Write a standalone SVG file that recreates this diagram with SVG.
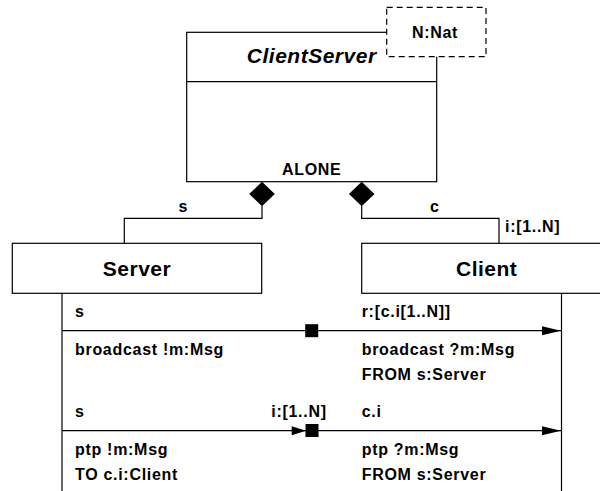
<svg xmlns="http://www.w3.org/2000/svg" width="600" height="491" viewBox="0 0 600 491">
<style>
.box{fill:#fff;stroke:#000;stroke-width:1.2}
.ln{fill:none;stroke:#000;stroke-width:1.2}
.big{font-family:"Liberation Sans",Arial,sans-serif;font-weight:bold;font-size:21px;letter-spacing:0.5px;fill:#000}
.sm{font-family:"Liberation Sans",Arial,sans-serif;font-weight:bold;font-size:16px;letter-spacing:0.7px;fill:#000}
.mid{text-anchor:middle}
.end{text-anchor:end}
</style>
<defs>
<marker id="arr" markerWidth="20" markerHeight="10" refX="19" refY="4.5" orient="auto" markerUnits="userSpaceOnUse">
<path d="M0,0 L19,4.5 L0,9 Z" fill="#000"/>
</marker>
</defs>
<g id="ClientServer">
<rect class="box" x="186.7" y="32.3" width="250" height="149.4"/>
<line class="ln" x1="186.7" y1="81.7" x2="436.7" y2="81.7"/>
<text class="big mid" x="311.7" y="63.3" font-style="italic">ClientServer</text>
<text class="sm mid" x="311.7" y="175">ALONE</text>
<g id="param">
<rect x="386.7" y="7.3" width="99.3" height="49.4" fill="#fff" stroke="#000" stroke-width="1.2" stroke-dasharray="6,4"/>
<text class="sm mid" x="435" y="38.3">N:Nat</text>
</g>
</g>
<g id="Server">
<rect class="box" x="12.3" y="243.3" width="249.4" height="50"/>
<text class="big mid" x="137" y="275.7">Server</text>
</g>
<g id="Client">
<rect class="box" x="361.7" y="243.3" width="250" height="50"/>
<text class="big mid" x="486.7" y="275.7">Client</text>
</g>
<g id="connectors">
<path class="ln" d="M262,206 V218.3 H124.3 V243.3"/>
<polygon points="262,181.7 274.8,194 262,206.3 249.2,194" fill="#000"/>
<text class="sm mid" x="183.3" y="212.3">s</text>
<path class="ln" d="M361.7,206 V218.3 H499 V243.3"/>
<polygon points="361.7,181.7 374.5,194 361.7,206.3 348.9,194" fill="#000"/>
<text class="sm mid" x="434.7" y="212.3">c</text>
<text class="sm" x="505" y="231.7">i:[1..N]</text>
<line class="ln" x1="62" y1="293.3" x2="62" y2="491"/>
<line class="ln" x1="561.5" y1="293.3" x2="561.5" y2="491"/>
<g id="broadcast">
<line class="ln" x1="62" y1="330.7" x2="561" y2="330.7" marker-end="url(#arr)"/>
<rect x="305.2" y="324.2" width="13" height="13" fill="#000"/>
<text class="sm" x="75" y="317.3">s</text>
<text class="sm" x="361.7" y="317.3">r:[c.i[1..N]]</text>
<text class="sm" x="75" y="355">broadcast !m:Msg</text>
<text class="sm" x="361.7" y="355">broadcast ?m:Msg</text>
<text class="sm" x="361.7" y="380">FROM s:Server</text>
</g>
<g id="ptp">
<line class="ln" x1="62" y1="430.7" x2="561" y2="430.7" marker-end="url(#arr)"/>
<path d="M291.7,426.2 L306,430.7 L291.7,435.2 Z" fill="#000"/>
<rect x="305.5" y="424" width="13" height="13" fill="#000"/>
<text class="sm" x="75" y="417.3">s</text>
<text class="sm end" x="326.7" y="417.3">i:[1..N]</text>
<text class="sm" x="361.7" y="417.3">c.i</text>
<text class="sm" x="75" y="455">ptp !m:Msg</text>
<text class="sm" x="75" y="480">TO c.i:Client</text>
<text class="sm" x="361.7" y="455">ptp ?m:Msg</text>
<text class="sm" x="361.7" y="480">FROM s:Server</text>
</g>
</g>
</svg>
